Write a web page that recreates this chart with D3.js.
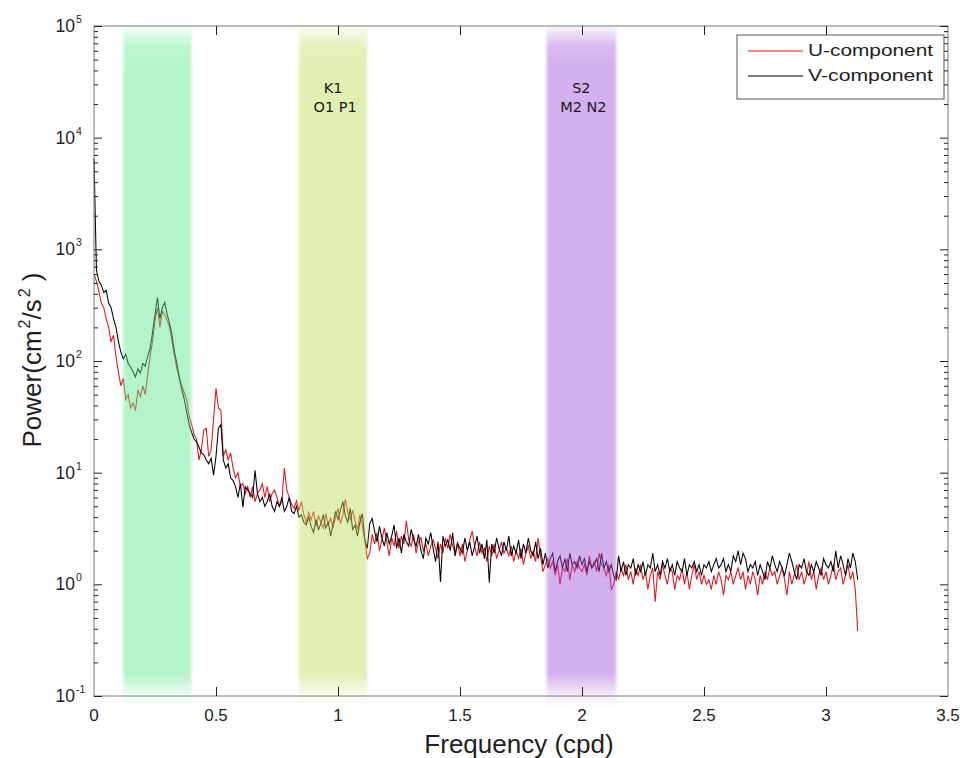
<!DOCTYPE html>
<html>
<head>
<meta charset="utf-8">
<script src="https://cdn.jsdelivr.net/npm/d3@7"></script>
<style>
  body { margin: 0; background: #fff; }
  svg { display: block; }
</style>
</head>
<body>
<svg id="chart" width="960" height="758"></svg>
<script>
// Spectral resolution of the estimates (cycles per day)
const FREQ_STEP = 0.01;

// U-component power spectrum (cm^2/s^2), one value per 0.01 cpd starting at 0
const uPower = [
  600, 520, 420, 330, 300, 240, 200, 150, 170, 110,
  80, 60, 70, 45, 50, 38, 42, 36, 55, 48,
  60, 50, 75, 110, 150, 230, 300, 200, 280, 260,
  230, 200, 150, 110, 85, 70, 60, 52, 45, 32,
  27, 22, 20, 13, 16, 24, 25, 14, 16, 30,
  57, 38, 36, 14, 16, 13, 15, 11, 9, 10,
  7.5, 8, 6.5, 7.5, 6, 7.5, 5.5, 6.5, 7, 8,
  6, 7.5, 5.5, 6.5, 7, 6, 5, 5.5, 11, 7,
  6, 5.2, 4.8, 5.6, 4.6, 5.5, 4.2, 3.6, 4.4, 3.8,
  4.5, 3.3, 4.1, 3.6, 3.2, 4.3, 3.4, 3.9, 3.2, 4,
  4.8, 3.5, 4.2, 5.8, 4.4, 3.8, 4.6, 3.7, 3.1, 4.2,
  3.3, 2.5, 1.7, 1.9, 2.8, 2.3, 2.9, 2.0, 2.5, 3.2,
  2.4, 1.8, 2.6, 2.2, 3.0, 2.1, 2.7, 2.3, 3.7, 2.5,
  2.2, 2.8, 1.9, 2.4, 2.6, 2.0, 2.3, 1.8, 2.2, 2.5,
  2.1, 1.7, 2.3, 1.9, 2.6, 2.1, 2.8, 2.2, 1.9, 2.4,
  1.8, 2.3, 1.6, 2.0, 2.5, 3.0, 2.2, 1.8, 2.4, 1.9,
  2.1, 1.6, 2.2, 1.8, 2.3, 1.7, 2.0, 2.4, 1.9, 2.1,
  1.8, 2.2, 1.6, 2.0, 1.7, 2.1, 1.5, 1.9, 2.2, 1.7,
  2.0, 1.6, 2.6, 1.8, 1.3, 1.5, 1.7, 1.4, 1.6, 1.2,
  1.5, 1.0, 1.4, 1.3, 1.7, 1.1, 1.5, 1.3, 1.6, 1.4,
  1.3, 1.5, 1.2, 1.8, 1.4, 1.6, 1.3, 1.9, 1.5, 1.4,
  1.2, 1.5, 0.9, 1.0, 1.3, 1.1, 1.4, 1.2, 1.5, 1.1,
  1.3, 1.0, 1.4, 1.2, 1.5, 1.1, 1.3, 0.9, 1.2, 1.4,
  0.7, 1.3, 1.1, 1.5, 1.2, 1.0, 1.4, 1.3, 0.9, 1.2,
  1.1, 1.4, 1.0, 1.3, 0.9, 1.2, 1.5, 1.1, 1.3, 1.0,
  1.2, 1.0, 1.1, 0.9, 1.2, 1.0, 1.3, 1.1, 0.8, 1.2,
  1.1, 1.3, 1.0, 1.2, 1.4, 1.1, 1.3, 0.9, 1.2, 1.0,
  1.3, 1.1, 0.8, 1.2, 1.0, 1.3, 1.1, 1.4, 1.2, 1.3,
  1.0, 1.2, 1.4, 1.1, 0.8, 1.3, 1.0, 1.2, 1.5, 1.1,
  1.3, 1.0, 1.2, 1.6, 1.1, 1.3, 0.9, 1.2, 1.4, 1.1,
  1.3, 1.0, 1.2, 1.5, 1.1, 1.3, 1.4, 1.0, 1.2, 1.5,
  1.1, 1.3, 0.9, 0.38
];

// V-component power spectrum (cm^2/s^2), same frequency grid
const vPower = [
  6500, 650, 520, 480, 410, 430, 330, 300, 240, 200,
  150, 120, 105, 115, 95, 88, 80, 72, 85, 78,
  95, 90, 110, 130, 180, 260, 370, 240, 300, 335,
  260, 215, 170, 120, 95, 70, 55, 45, 35, 27,
  23, 20, 19, 17, 15, 14.5, 13, 12, 13.5, 9.5,
  14, 25, 27, 13, 11, 12, 9, 8.5, 7.5, 6,
  8, 4.9, 7.5, 7, 6.5, 6, 10.5, 6.5, 5.5, 6,
  5, 5.5, 6.5, 5, 4.5, 5.5, 5, 6, 4.5, 5,
  6, 4.5, 4.3, 5, 4, 4.2, 3.6, 3.4, 4, 3.3,
  2.9, 3.8, 3.1, 3.5, 4.2, 3.2, 3.6, 2.7, 3.5, 4.5,
  3.8, 4.6, 5.5, 4.1, 3.6, 4.8, 3.1, 3.4, 2.7, 3.6,
  4.3, 2.5, 2.1, 3.5, 3.9, 3.0, 2.4, 3.3, 2.6, 2.2,
  2.9, 2.3, 2.7, 3.4, 2.1, 2.6, 1.9, 2.8, 2.4, 2.2,
  3.1, 2.5, 2.2, 2.8, 2.0, 1.7, 2.6, 2.3, 2.9, 2.1,
  1.6, 2.4, 1.05, 2.7, 2.2, 2.5, 2.0, 2.9, 1.8, 2.3,
  2.1, 1.9, 2.6, 2.0, 2.4, 1.8, 2.2, 2.7, 1.9, 2.3,
  1.7, 2.5, 1.04, 2.3, 1.9, 2.6, 2.1, 1.8, 2.4, 2.0,
  2.7, 1.8, 2.2, 1.9, 2.5, 1.7, 2.3, 1.9, 2.6, 2.0,
  1.8, 2.4, 1.7, 2.1, 1.5, 1.9, 1.4, 1.7, 1.9, 1.3,
  1.6, 1.8, 1.4, 1.7, 1.3, 1.9, 1.5, 1.6, 1.4, 1.8,
  1.5, 1.7, 1.3, 1.6, 1.4, 1.5, 1.7, 1.3, 1.9, 1.4,
  1.6, 1.3, 1.5, 1.2, 1.1, 1.8, 1.3, 1.6, 1.2, 1.5,
  1.4, 1.7, 1.2, 1.5, 1.3, 1.6, 1.2, 1.5, 1.4, 1.9,
  1.3, 1.5, 1.2, 1.6, 1.4, 1.7, 1.3, 1.5, 1.2, 1.6,
  1.4, 1.3, 1.7, 1.2, 1.5, 1.4, 1.6, 1.3, 1.5, 1.2,
  1.5, 1.4, 1.6, 1.3, 1.5, 1.7, 1.4, 1.5, 1.7, 1.3,
  1.5, 1.3, 1.8, 1.6, 2.0, 1.5, 1.9, 1.7, 1.3, 1.5,
  1.4, 1.6, 1.2, 1.5, 1.3, 1.1, 1.6, 1.4, 1.8, 1.5,
  1.3, 1.6, 1.4, 1.2, 1.5, 1.9, 1.6, 1.3, 1.1, 1.5,
  1.4, 1.7, 1.3, 1.2, 1.5, 1.3, 1.6, 1.4, 1.2, 1.7,
  1.5, 1.4, 1.6, 1.3, 2.0, 1.4, 1.8, 1.5, 1.2, 1.7,
  1.4, 1.9, 1.6, 1.1
];

// Shaded frequency bands (cpd) and the constituents named in them
const bandStarts = [0.12, 0.84, 1.855];
const bandEnds   = [0.40, 1.12, 2.14];
const bandColors = ["#59e985", "#bbde59", "#a050da"];
const bandLabels = [[], ["K1", "O1 P1"], ["S2", "M2 N2"]];

const seriesNames  = ["U-component", "V-component"];
const seriesColors = ["#e3121c", "#000000"];

const xTicks = [0, 0.5, 1, 1.5, 2, 2.5, 3, 3.5];
const xTickLabels = ["0", "0.5", "1", "1.5", "2", "2.5", "3", "3.5"];
const yExponents = [-1, 0, 1, 2, 3, 4, 5];

const plot = { left: 94, right: 948, top: 26, bottom: 696 };

const svg = d3.select("#chart");
const x = d3.scaleLinear().domain([0, 3.5]).range([plot.left, plot.right]);
const y = d3.scaleLog().domain([0.1, 1e5]).range([plot.bottom, plot.top]);

const freq = uPower.map((_, i) => +(i * FREQ_STEP).toFixed(2));
const series = [uPower, vPower].map((vals, k) => ({
  name: seriesNames[k],
  color: seriesColors[k],
  points: vals.map((v, i) => ({ f: freq[i], p: v }))
}));

const defs = svg.append("defs");

// vertical fade at the top and bottom of each band
bandColors.forEach((c, i) => {
  const g = defs.append("linearGradient")
    .attr("id", "band" + i)
    .attr("x1", 0).attr("y1", 0).attr("x2", 0).attr("y2", 1);
  [[0, 0.05], [0.03, 0.4], [0.06, 0.45], [0.949, 0.45], [0.982, 0.1], [1, 0]].forEach(([o, a]) => {
    g.append("stop").attr("offset", o).attr("stop-color", c).attr("stop-opacity", a);
  });
});
const soft = defs.append("filter").attr("id", "soft")
  .attr("x", "-15%").attr("y", "-2%").attr("width", "130%").attr("height", "104%");
soft.append("feGaussianBlur").attr("stdDeviation", "1.4 0.6");

// spectra
const line = d3.line().x(d => x(d.f)).y(d => y(d.p));
svg.append("g").selectAll("path")
  .data(series)
  .join("path")
  .attr("d", d => line(d.points))
  .attr("fill", "none")
  .attr("stroke", d => d.color)
  .attr("stroke-width", 1.05)
  .attr("stroke-linejoin", "miter");

// translucent bands laid over the spectra
svg.append("g").selectAll("rect")
  .data(bandStarts.map((s, i) => ({ s, e: bandEnds[i], i })))
  .join("rect")
  .attr("x", d => x(d.s))
  .attr("width", d => x(d.e) - x(d.s))
  .attr("y", plot.top)
  .attr("height", plot.bottom - plot.top + 12)
  .attr("fill", d => `url(#band${d.i})`)
  .attr("filter", "url(#soft)");

// band labels
const bandText = svg.append("g")
  .attr("font-family", "'DejaVu Sans', sans-serif")
  .attr("font-size", 14.5)
  .attr("fill", "#1a1a1a")
  .attr("text-anchor", "middle");
bandLabels.forEach((lines, i) => {
  const cx = x((bandStarts[i] + bandEnds[i]) / 2);
  lines.forEach((t, j) => {
    bandText.append("text")
      .attr("x", cx + (j === 1 ? 2 : 0))
      .attr("y", 93 + j * 19)
      .text(t);
  });
});

// frame
svg.append("rect")
  .attr("x", plot.left).attr("y", plot.top)
  .attr("width", plot.right - plot.left).attr("height", plot.bottom - plot.top)
  .attr("fill", "none").attr("stroke", "#7a7a7a").attr("stroke-width", 1);

// ticks (all pointing inward)
const majorY = yExponents.map(e => Math.pow(10, e));
const minorY = [];
yExponents.slice(0, -1).forEach(e => {
  for (let m = 2; m <= 9; m++) minorY.push(m * Math.pow(10, e));
});

function styleAxis(g) {
  g.select(".domain").remove();
  g.selectAll(".tick line").attr("stroke", "#222").attr("stroke-width", 1);
}
svg.append("g").attr("transform", `translate(${plot.left},0)`)
  .call(d3.axisLeft(y).tickValues(majorY).tickSize(-8).tickSizeOuter(0).tickFormat(""))
  .call(styleAxis);
svg.append("g").attr("transform", `translate(${plot.left},0)`)
  .call(d3.axisLeft(y).tickValues(minorY).tickSize(-4).tickSizeOuter(0).tickFormat(""))
  .call(styleAxis);
svg.append("g").attr("transform", `translate(${plot.right},0)`)
  .call(d3.axisRight(y).tickValues(majorY).tickSize(-8).tickSizeOuter(0).tickFormat(""))
  .call(styleAxis);
svg.append("g").attr("transform", `translate(${plot.right},0)`)
  .call(d3.axisRight(y).tickValues(minorY).tickSize(-4).tickSizeOuter(0).tickFormat(""))
  .call(styleAxis);
svg.append("g").attr("transform", `translate(0,${plot.bottom})`)
  .call(d3.axisBottom(x).tickValues(xTicks.slice(1, -1)).tickSize(-9).tickSizeOuter(0).tickFormat(""))
  .call(styleAxis);
svg.append("g").attr("transform", `translate(0,${plot.top})`)
  .call(d3.axisTop(x).tickValues(xTicks.slice(1, -1)).tickSize(-9).tickSizeOuter(0).tickFormat(""))
  .call(styleAxis);

// tick labels
const labelFont = "'Liberation Sans', Arial, sans-serif";
const yl = svg.append("g").attr("font-family", labelFont).attr("fill", "#1e1e1e");
yExponents.forEach(e => {
  const yy = y(Math.pow(10, e));
  yl.append("text").attr("x", 75).attr("y", yy + 6)
    .attr("text-anchor", "end").attr("font-size", 17.5).text("10");
  yl.append("text").attr("x", 76).attr("y", yy - 3)
    .attr("font-size", 10.5).text(String(e));
});
svg.append("g").attr("font-family", labelFont).attr("fill", "#1e1e1e")
  .attr("font-size", 17).attr("text-anchor", "middle")
  .selectAll("text").data(xTicks).join("text")
  .attr("x", d => x(d)).attr("y", plot.bottom + 25)
  .text((d, i) => xTickLabels[i]);

// axis titles
svg.append("text")
  .attr("x", (plot.left + plot.right) / 2 - 2).attr("y", 753)
  .attr("text-anchor", "middle")
  .attr("font-family", labelFont).attr("font-size", 26).attr("fill", "#1e1e1e")
  .text("Frequency (cpd)");

const yTitle = svg.append("text")
  .attr("transform", "translate(41,360) rotate(-90)")
  .attr("text-anchor", "middle")
  .attr("font-family", labelFont).attr("font-size", 26).attr("fill", "#1e1e1e");
yTitle.append("tspan").text("Power(cm");
yTitle.append("tspan").attr("font-size", 16).attr("dx", 2).attr("dy", -11).text("2");
yTitle.append("tspan").attr("dy", 11).text("/s");
yTitle.append("tspan").attr("font-size", 16).attr("dx", 2).attr("dy", -11).text("2");
yTitle.append("tspan").attr("dy", 11).text(" )");

// legend
const lg = svg.append("g");
lg.append("rect")
  .attr("x", 737).attr("y", 35).attr("width", 207).attr("height", 64)
  .attr("fill", "#fff").attr("stroke", "#555").attr("stroke-width", 1);
series.forEach((s, i) => {
  const ly = 51 + i * 25;
  lg.append("line")
    .attr("x1", 748).attr("x2", 803).attr("y1", ly).attr("y2", ly)
    .attr("stroke", s.color).attr("stroke-width", 1);
  lg.append("text")
    .attr("x", 808).attr("y", ly + 5)
    .attr("font-family", labelFont).attr("font-size", 16).attr("fill", "#1e1e1e")
    .attr("textLength", 125).attr("lengthAdjust", "spacingAndGlyphs")
    .text(s.name);
});
</script>
</body>
</html>
